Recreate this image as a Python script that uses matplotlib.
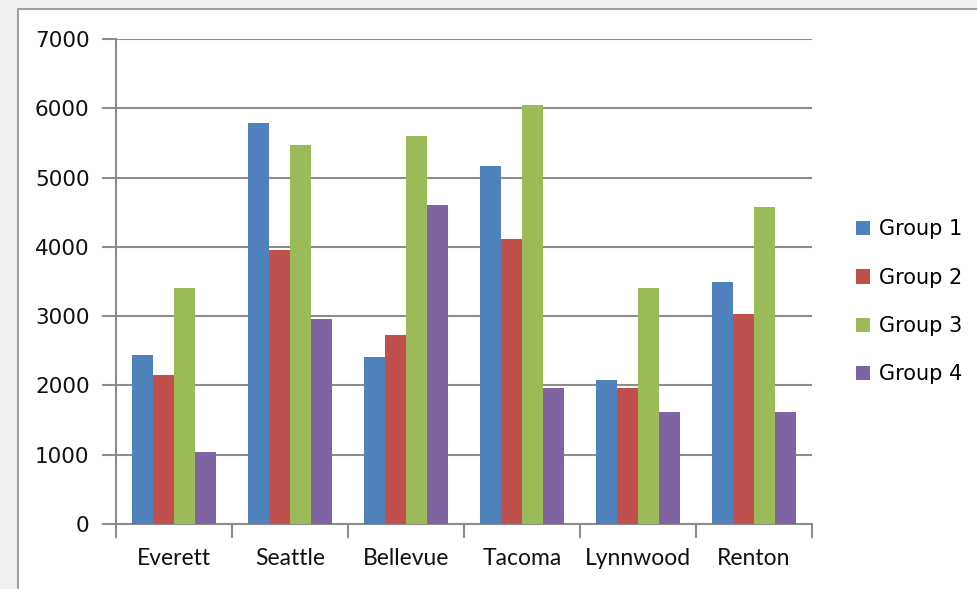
import matplotlib
matplotlib.use("Agg")
import matplotlib.pyplot as plt
import numpy as np
from matplotlib.patches import Rectangle, Patch

categories = ["Everett", "Seattle", "Bellevue", "Tacoma", "Lynnwood", "Renton"]
group1 = [2440, 5790, 2410, 5170, 2080, 3490]
group2 = [2150, 3950, 2730, 4110, 1960, 3030]
group3 = [3400, 5470, 5600, 6050, 3400, 4580]
group4 = [1040, 2960, 4600, 1960, 1620, 1620]
series_names = ["Group 1", "Group 2", "Group 3", "Group 4"]
colors = ["#4F81BD", "#C0504D", "#9BBB59", "#8064A2"]
yticks = [0, 1000, 2000, 3000, 4000, 5000, 6000, 7000]

W, H = 978, 589
fig = plt.figure(figsize=(W / 100, H / 100), dpi=100)
fig.patch.set_facecolor("#F0F0F0")
bg = Rectangle((18 / W, -0.05), 1.0, 1.05 - 9 / H, transform=fig.transFigure,
               facecolor="white", edgecolor="#A0A0A0", linewidth=1.5, zorder=-10)
fig.patches.append(bg)

ax = fig.add_axes([116 / W, 1 - 524 / H, (812 - 116) / W, (524 - 39) / H])
ax.set_zorder(5)
ax.set_facecolor("white")

series = [group1, group2, group3, group4]
x = np.arange(len(categories)) + 0.5
bw = 0.181
for i, (vals, c, name) in enumerate(zip(series, colors, series_names)):
    ax.bar(x + (i - 1.5) * bw, vals, width=bw, color=c, label=name, zorder=3, linewidth=0)

ax.set_xlim(0, len(categories))
ax.set_ylim(0, 7000)
ax.set_yticks(yticks)
ax.set_yticklabels([str(t) for t in yticks], fontsize=15.5, family="DejaVu Sans", color="#111111")
ax.yaxis.grid(True, color="#8C8C8C", linewidth=1.5, zorder=1)
ax.set_axisbelow(True)

ax.set_xticks(x)
ax.set_xticklabels(categories, fontsize=16.5, family="Lato", color="#111111")
ax.set_xticks(np.arange(len(categories) + 1), minor=True)
ax.tick_params(axis="x", which="major", length=0, pad=17)
ax.tick_params(axis="x", which="minor", length=10, width=1.5, color="#8C8C8C", direction="out")
ax.tick_params(axis="y", length=10, width=1.5, color="#8C8C8C", pad=9)

for s in ["top", "right"]:
    ax.spines[s].set_visible(False)
for s in ["left", "bottom"]:
    ax.spines[s].set_color("#8C8C8C")
    ax.spines[s].set_linewidth(1.5)

handles = [Patch(facecolor=c, edgecolor="none") for c in colors]
leg = fig.legend(handles, series_names, loc="upper left",
                 bbox_to_anchor=(848 / W, 1 - 211 / H), frameon=False,
                 prop={"family": "DejaVu Sans", "size": 15},
                 handlelength=0.68, handleheight=0.68, handletextpad=0.4,
                 labelspacing=1.36, borderaxespad=0)
leg.set_zorder(10)

fig.savefig("out.png", dpi=100, facecolor=fig.get_facecolor())
